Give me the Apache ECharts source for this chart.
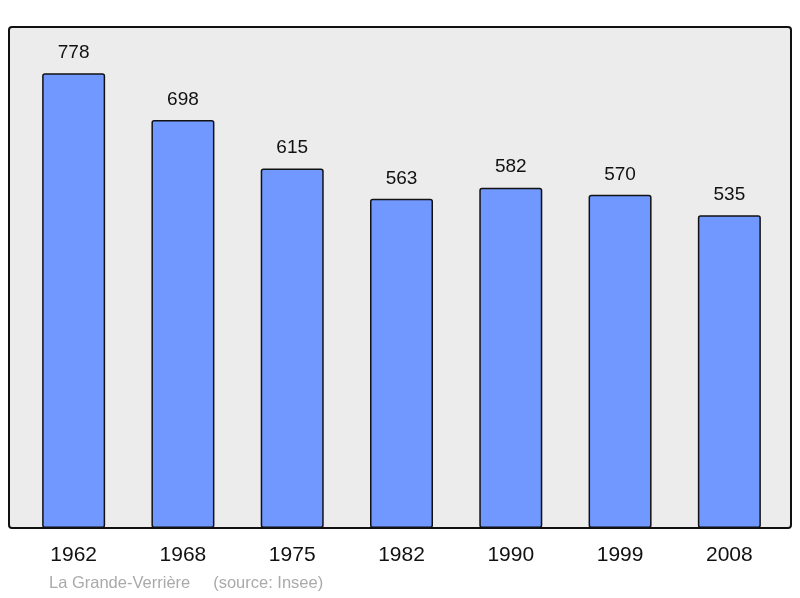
<html>
<head>
<meta charset="utf-8" />
<script src="https://cdn.jsdelivr.net/npm/echarts@6/dist/echarts.min.js"></script>
<style>html,body{margin:0;background:#fff}#c{width:800px;height:598px}</style>
</head>
<body>
<div id="c"></div>
<script>
const years = ['1962', '1968', '1975', '1982', '1990', '1999', '2008'];
const population = [778, 698, 615, 563, 582, 570, 535];

let chart = echarts.init(document.getElementById('c'));
chart.setOption({
    animation: false,
    graphic: [
        { type: 'rect', z: -10, shape: { x: 9, y: 27, width: 782, height: 501, r: 3 },
          style: { fill: '#ececec', stroke: '#111', lineWidth: 2 } },
        { type: 'text', left: 49, top: 575,
          style: { text: 'La Grande-Verrière     (source: Insee)', fill: '#aaa', font: '16.5px "Liberation Sans", Arial' } }
    ],
    grid: { left: 19, right: 16, top: 27, bottom: 70 },
    xAxis: {
        type: 'category', data: years,
        axisLine: { show: false }, axisTick: { show: false },
        axisLabel: { fontSize: 21, color: '#111', margin: 17, fontFamily: 'Liberation Sans' }
    },
    yAxis: { type: 'value', min: 0, max: 857, show: false, splitLine: { show: false } },
    series: [{
        type: 'bar', data: population, barWidth: 63,
        itemStyle: { color: '#7098ff', borderColor: '#111', borderWidth: 1.5, borderRadius: 2 },
        label: { show: true, position: 'top', distance: 11, fontSize: 19, color: '#111', fontFamily: 'Liberation Sans' }
    }]
});
</script>
</body>
</html>
